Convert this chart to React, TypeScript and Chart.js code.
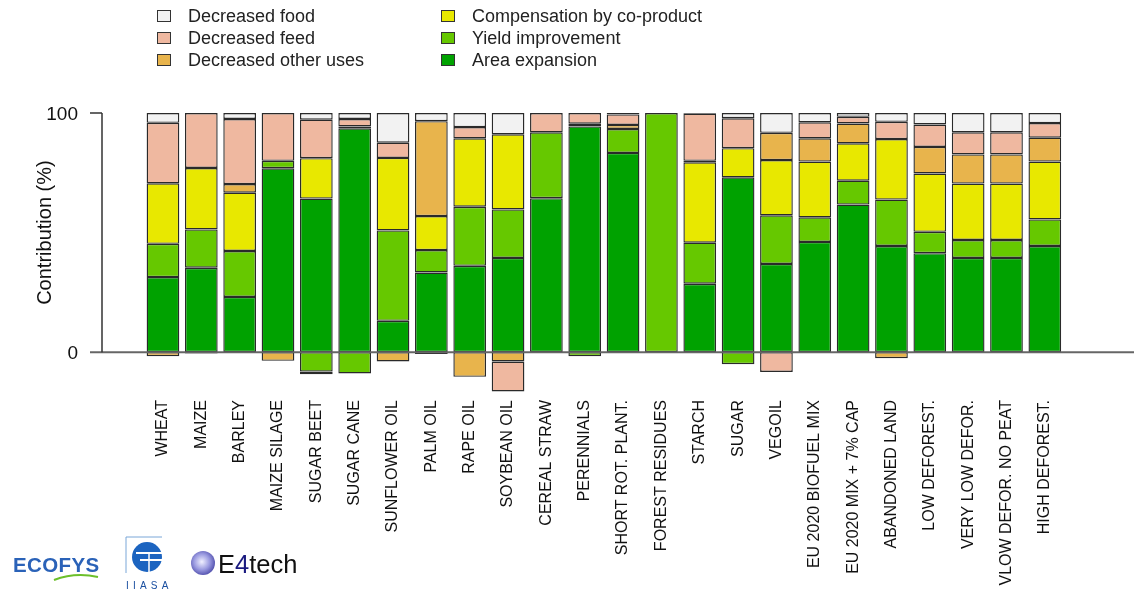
import React, { useEffect, useRef } from "react";
import { Chart, registerables } from "chart.js";

Chart.register(...registerables);

const categories = [
  "WHEAT", "MAIZE", "BARLEY", "MAIZE SILAGE", "SUGAR BEET", "SUGAR CANE",
  "SUNFLOWER OIL", "PALM OIL", "RAPE OIL", "SOYBEAN OIL", "CEREAL STRAW",
  "PERENNIALS", "SHORT ROT. PLANT.", "FOREST RESIDUES", "STARCH", "SUGAR",
  "VEGOIL", "EU 2020 BIOFUEL MIX", "EU 2020 MIX + 7% CAP", "ABANDONED LAND",
  "LOW DEFOREST.", "VERY LOW DEFOR.", "VLOW DEFOR. NO PEAT", "HIGH DEFOREST.",
];

// null = no segment
const areaExpansion = [31.4, 35.3, 23.1, 76.9, 64.2, 93.6, 13.1, 33.3, 36.1, 39.4, 64.4, 94.4, 83.3, null, 28.6, 73.1, 36.9, 46.1, 61.7, 44.4, 41.4, 39.4, 39.4, 44.4];
const yieldImprovement = [13.9, 16.0, 19.2, 3.1, -8.1, -8.9, 37.8, 9.4, 24.7, 20.3, 27.5, -1.7, 10.0, 100, 17.2, -5.0, 20.3, 10.3, 10.0, 19.4, 8.9, 7.5, 7.5, 11.1];
const coProduct = [25.3, 25.7, 24.4, null, 16.9, null, 30.3, 14.2, 28.6, 31.4, null, null, null, null, 33.6, 12.2, 23.1, 23.3, 15.6, 25.3, 24.4, 23.6, 23.6, 24.2];
const otherUses = [-1.7, null, 3.6, -3.6, -1.1, 0.8, -3.9, 39.7, -10.3, -3.9, null, 1.1, 1.7, null, 0.6, null, 11.4, 9.7, 8.3, -2.5, 11.1, 12.2, 12.2, 10.0];
const decreasedFeed = [25.3, 23.0, 27.2, 20.0, 16.1, 3.1, 6.4, -0.8, 4.7, -12.5, 8.1, 4.5, 4.4, null, 19.7, 12.5, -8.3, 6.7, 2.8, 7.2, 9.4, 9.2, 9.2, 6.1];
const decreasedFood = [4.1, -0.6, 2.5, null, 2.8, 2.5, 12.4, 3.4, 5.9, 8.9, null, null, 0.6, null, 0.3, 2.2, 8.3, 3.9, 1.6, 3.7, 4.8, 8.1, 8.1, 4.2];

const seriesNames = [
  "Area expansion", "Yield improvement", "Compensation by co-product",
  "Decreased other uses", "Decreased feed", "Decreased food",
];
const seriesColors = ["#00A200", "#66C800", "#E8E800", "#E8B44C", "#EFB8A0", "#F2F2F2"];
const seriesData = [areaExpansion, yieldImprovement, coProduct, otherUses, decreasedFeed, decreasedFood];

// legend order (column-major, as in the reference)
const legendOrder = [5, 4, 3, 2, 1, 0];

const yTicks = [0, 100];
const yTitle = "Contribution (%)";

const FONT = "'Liberation Sans', Arial, Helvetica, sans-serif";

const axesPlugin = {
  id: "customAxes",
  afterDatasetsDraw(chart: any) {
    const ctx = chart.ctx as CanvasRenderingContext2D;
    const y = chart.scales.y;
    const y0 = y.getPixelForValue(0);
    const y100 = y.getPixelForValue(100);
    ctx.save();
    ctx.strokeStyle = "#666";
    ctx.lineWidth = 2;
    ctx.beginPath();
    ctx.moveTo(90, y0);
    ctx.lineTo(chart.width, y0);
    ctx.stroke();

    ctx.strokeStyle = "#333";
    ctx.lineWidth = 1.5;
    ctx.beginPath();
    ctx.moveTo(102, y0);
    ctx.lineTo(102, y100);
    ctx.moveTo(90, y100);
    ctx.lineTo(102, y100);
    ctx.stroke();

    ctx.fillStyle = "#111";
    ctx.font = `19px ${FONT}`;
    ctx.textAlign = "right";
    ctx.textBaseline = "middle";
    yTicks.forEach((v) => ctx.fillText(String(v), 78, y.getPixelForValue(v) + 2));

    ctx.translate(45, (y0 + y100) / 2);
    ctx.rotate(-Math.PI / 2);
    ctx.textAlign = "center";
    ctx.font = `20px ${FONT}`;
    ctx.fillText(yTitle, 0, 0);
    ctx.restore();
  },
};

function Legend() {
  const rows = [16, 38, 60];
  return (
    <>
      {legendOrder.map((si, i) => {
        const col = Math.floor(i / 3);
        const cy = rows[i % 3];
        const bx = col === 0 ? 157 : 441;
        const tx = col === 0 ? 188 : 472;
        return (
          <React.Fragment key={si}>
            <div
              style={{
                position: "absolute", left: bx, top: cy - 6, width: 14, height: 12,
                boxSizing: "border-box", border: "1.5px solid #333", background: seriesColors[si],
              }}
            />
            <div
              style={{
                position: "absolute", left: tx, top: cy - 11, height: 22, lineHeight: "22px",
                fontFamily: FONT, fontSize: 18, color: "#222", whiteSpace: "nowrap",
              }}
            >
              {seriesNames[si]}
            </div>
          </React.Fragment>
        );
      })}
    </>
  );
}

function Logos() {
  return (
    <svg width={320} height={92} style={{ position: "absolute", left: 0, top: 500 }}>
      <defs>
        <radialGradient id="e4ball" cx="45%" cy="45%" r="60%">
          <stop offset="0%" stopColor="#f0f0ff" />
          <stop offset="55%" stopColor="#9a9ae0" />
          <stop offset="100%" stopColor="#4a48a8" />
        </radialGradient>
      </defs>
      <text x={13} y={72} fontFamily={FONT} fontWeight="bold" fontSize={20.5} fill="#2a62b8" letterSpacing={0.4}>
        ECOFYS
      </text>
      <path d="M54 80 Q 75 72 98 77" stroke="#6cbf2a" strokeWidth={2} fill="none" />
      <path d="M126 73 L126 37 L162 37" stroke="#7aa7d8" strokeWidth={1} fill="none" />
      <circle cx={147} cy={57} r={15} fill="#1c64c0" />
      <rect x={136} y={52} width={26} height={2} fill="#fff" />
      <rect x={140} y={59} width={22} height={2} fill="#fff" />
      <path d="M149 52 L149 72" stroke="#fff" strokeWidth={1.5} />
      <text x={126} y={89} fontFamily={FONT} fontSize={10} fill="#1a4fa0" letterSpacing={4.2}>
        IIASA
      </text>
      <circle cx={203} cy={63} r={12} fill="url(#e4ball)" />
      <text x={218} y={73} fontFamily={FONT} fontSize={25.5} fill="#111">
        E<tspan fill="#1a1a80">4</tspan>tech
      </text>
    </svg>
  );
}

export default function App() {
  const canvasRef = useRef<HTMLCanvasElement | null>(null);

  useEffect(() => {
    if (!canvasRef.current) return;
    const chart = new Chart(canvasRef.current, {
      type: "bar",
      data: {
        labels: categories,
        datasets: seriesData.map((d, i) => ({
          label: seriesNames[i],
          data: d,
          backgroundColor: seriesColors[i],
          borderColor: "#2a2a2a",
          borderWidth: 1.4,
          borderSkipped: false,
          barPercentage: 0.853,
          categoryPercentage: 1,
        })),
      },
      options: {
        animation: false,
        responsive: false,
        devicePixelRatio: 1,
        layout: { padding: { left: 143.8, right: 70, top: 113, bottom: 0 } },
        plugins: { legend: { display: false }, tooltip: { enabled: false } },
        scales: {
          x: {
            stacked: true,
            grid: { display: false, drawTicks: false },
            border: { display: false },
            ticks: {
              autoSkip: false,
              minRotation: 90,
              maxRotation: 90,
              padding: 0,
              color: "#111",
              font: { family: FONT, size: 16 },
            },
            afterFit: (scale: any) => {
              scale.height = 192;
            },
          },
          y: {
            stacked: true,
            display: false,
            min: -20,
            max: 100,
          },
        },
      },
      plugins: [axesPlugin],
    });
    return () => chart.destroy();
  }, []);

  return (
    <div style={{ position: "absolute", left: 0, top: 0, width: 1134, height: 592, background: "#fff" }}>
      <canvas ref={canvasRef} width={1134} height={592} style={{ position: "absolute", left: 0, top: 0 }} />
      <Legend />
      <Logos />
    </div>
  );
}
